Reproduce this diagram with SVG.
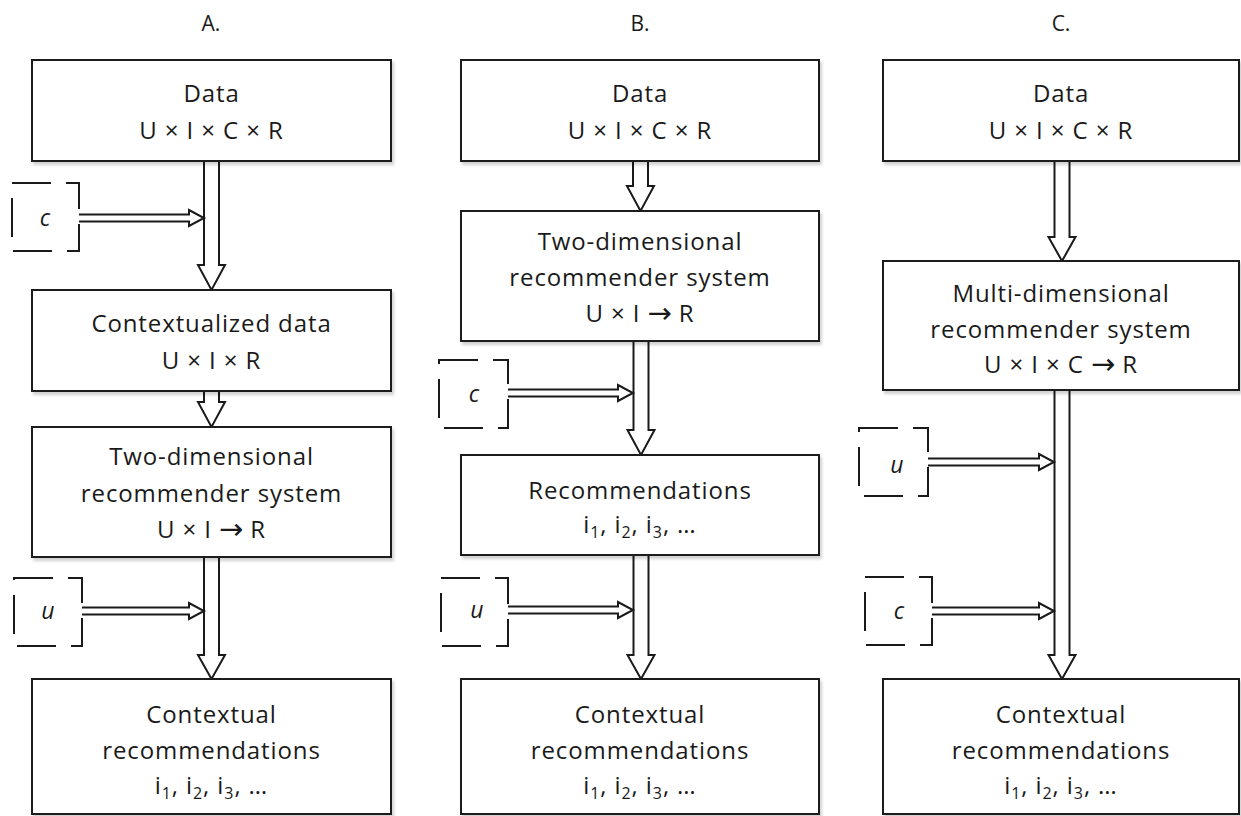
<svg xmlns="http://www.w3.org/2000/svg" width="1241" height="816" viewBox="0 0 1241 816">
<defs>
<filter id="sh" x="-5%" y="-5%" width="115%" height="120%">
<feDropShadow dx="2" dy="3" stdDeviation="1.5" flood-color="#000" flood-opacity="0.18"/>
</filter>
<style>
.box{fill:#fff;stroke:#1a1a1a;stroke-width:2;filter:url(#sh)}
.dbox{fill:#fff;stroke:#1a1a1a;stroke-width:2;stroke-dasharray:39 15}
.arr{fill:#fff;stroke:#1a1a1a;stroke-width:2;stroke-linejoin:miter}
text{font-family:"Open Sans","Liberation Sans",Arial,sans-serif;fill:#1a1a1a;text-anchor:middle}
.t{font-size:24px;letter-spacing:0.9px}
.ttl{font-size:21px}
.v{font-size:23px;font-style:italic}
.s{font-size:16px}
.ar{font-family:"DejaVu Sans",sans-serif;font-size:29px;letter-spacing:0}
</style>
</defs>
<rect width="1241" height="816" fill="#fff"/>
<g id="titles">
<text class="ttl" x="211" y="31">A.</text>
<text class="ttl" x="640" y="31">B.</text>
<text class="ttl" x="1061" y="31">C.</text>
</g>
<g id="connectors">
<path class="arr" d="M204,161 V265 H198 L211.5,290 L225,265 H219 V161"/>
<path class="arr" d="M204,391 V402 H198 L211.5,427 L225,402 H219 V391"/>
<path class="arr" d="M204,557 V655 H198 L211.5,679 L225,655 H219 V557"/>
<path class="arr" d="M633,161 V186 H627 L640.5,211 L654,186 H648 V161"/>
<path class="arr" d="M633.5,341 V430 H627.5 L641,455 L654.5,430 H648.5 V341"/>
<path class="arr" d="M633.5,555 V655 H627.5 L641,679 L654.5,655 H648.5 V555"/>
<path class="arr" d="M1054.5,161 V237 H1048.5 L1062,261 L1075.5,237 H1069.5 V161"/>
<path class="arr" d="M1054.5,390 V655 H1048.5 L1062,679 L1075.5,655 H1069.5 V390"/>
<path class="arr" d="M79,214.5 H189 V210 L204,218 L189,226 V221.5 H79"/>
<path class="arr" d="M82,607.5 H189 V603 L204,611 L189,619 V614.5 H82"/>
<path class="arr" d="M508,389.5 H618 V385 L633,393 L618,401 V396.5 H508"/>
<path class="arr" d="M508,606.5 H618 V602 L633,610 L618,618 V613.5 H508"/>
<path class="arr" d="M928,458.5 H1039 V454 L1054,462 L1039,470 V465.5 H928"/>
<path class="arr" d="M932,607.5 H1039 V603 L1054,611 L1039,619 V614.5 H932"/>
</g>
<g id="A-data"><rect class="box" x="32" y="60" width="359" height="101"/>
<text class="t" x="211.5" y="102">Data</text><text class="t" x="211.5" y="139">U × I × C × R</text></g>
<g id="A-context"><rect class="dbox" x="12" y="183" width="67" height="68"/><text class="v" x="45" y="226">c</text></g>
<g id="A-contextualized"><rect class="box" x="32" y="290" width="359" height="101"/>
<text class="t" x="211.5" y="332">Contextualized data</text><text class="t" x="211.5" y="369">U × I × R</text></g>
<g id="A-2d"><rect class="box" x="32" y="427" width="359" height="130"/>
<text class="t" x="211.5" y="465">Two-dimensional</text><text class="t" x="211.5" y="502">recommender system</text><text class="t" x="211.5" y="538">U × I <tspan class="ar" dy="1">→</tspan><tspan dy="-1"> R</tspan></text></g>
<g id="A-user"><rect class="dbox" x="14" y="578" width="68" height="68"/><text class="v" x="48" y="619">u</text></g>
<g id="A-result"><rect class="box" x="32" y="679" width="359" height="135"/>
<text class="t" x="211.5" y="723">Contextual</text><text class="t" x="211.5" y="759">recommendations</text>
<text class="t" x="211.5" y="794">i<tspan class="s" dy="5">1</tspan><tspan dy="-5">, i</tspan><tspan class="s" dy="5">2</tspan><tspan dy="-5">, i</tspan><tspan class="s" dy="5">3</tspan><tspan dy="-5">, …</tspan></text></g>

<g id="B-data"><rect class="box" x="461" y="60" width="358" height="101"/>
<text class="t" x="640" y="102">Data</text><text class="t" x="640" y="139">U × I × C × R</text></g>
<g id="B-2d"><rect class="box" x="461" y="211" width="358" height="130"/>
<text class="t" x="640" y="250">Two-dimensional</text><text class="t" x="640" y="286">recommender system</text><text class="t" x="640" y="322">U × I <tspan class="ar" dy="1">→</tspan><tspan dy="-1"> R</tspan></text></g>
<g id="B-context"><rect class="dbox" x="439" y="360" width="69" height="68"/><text class="v" x="474" y="402">c</text></g>
<g id="B-recs"><rect class="box" x="461" y="455" width="358" height="100"/>
<text class="t" x="640" y="499">Recommendations</text>
<text class="t" x="640" y="533">i<tspan class="s" dy="5">1</tspan><tspan dy="-5">, i</tspan><tspan class="s" dy="5">2</tspan><tspan dy="-5">, i</tspan><tspan class="s" dy="5">3</tspan><tspan dy="-5">, …</tspan></text></g>
<g id="B-user"><rect class="dbox" x="441" y="578" width="67" height="68"/><text class="v" x="477" y="618">u</text></g>
<g id="B-result"><rect class="box" x="461" y="679" width="358" height="135"/>
<text class="t" x="640" y="723">Contextual</text><text class="t" x="640" y="759">recommendations</text>
<text class="t" x="640" y="794">i<tspan class="s" dy="5">1</tspan><tspan dy="-5">, i</tspan><tspan class="s" dy="5">2</tspan><tspan dy="-5">, i</tspan><tspan class="s" dy="5">3</tspan><tspan dy="-5">, …</tspan></text></g>

<g id="C-data"><rect class="box" x="883" y="60" width="356" height="101"/>
<text class="t" x="1061" y="102">Data</text><text class="t" x="1061" y="139">U × I × C × R</text></g>
<g id="C-md"><rect class="box" x="883" y="261" width="356" height="129"/>
<text class="t" x="1061" y="302">Multi-dimensional</text><text class="t" x="1061" y="338">recommender system</text><text class="t" x="1061" y="373">U × I × C <tspan class="ar" dy="1">→</tspan><tspan dy="-1"> R</tspan></text></g>
<g id="C-user"><rect class="dbox" x="859" y="428" width="69" height="68"/><text class="v" x="897" y="473">u</text></g>
<g id="C-context"><rect class="dbox" x="865" y="577" width="67" height="68"/><text class="v" x="899" y="619">c</text></g>
<g id="C-result"><rect class="box" x="883" y="679" width="356" height="135"/>
<text class="t" x="1061" y="723">Contextual</text><text class="t" x="1061" y="759">recommendations</text>
<text class="t" x="1061" y="794">i<tspan class="s" dy="5">1</tspan><tspan dy="-5">, i</tspan><tspan class="s" dy="5">2</tspan><tspan dy="-5">, i</tspan><tspan class="s" dy="5">3</tspan><tspan dy="-5">, …</tspan></text></g>
</svg>
